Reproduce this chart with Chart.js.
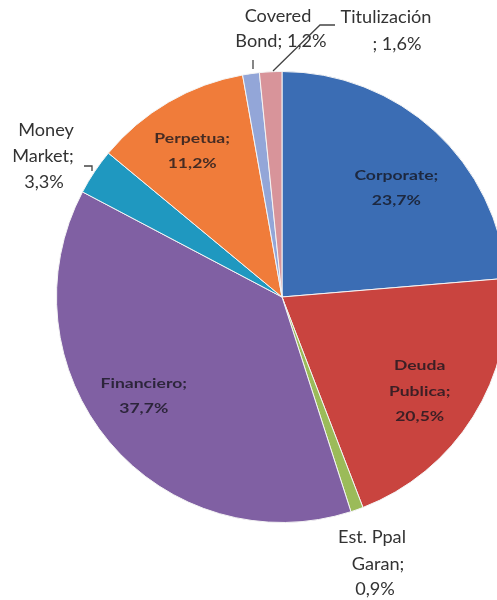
<!DOCTYPE html>
<html>
<head>
<meta charset="utf-8">
<script src="https://cdn.jsdelivr.net/npm/chart.js@4"></script>
<style>
  html, body { margin: 0; padding: 0; background: #fff; overflow: hidden; }
</style>
</head>
<body>
<canvas id="pieChart" width="520" height="600"></canvas>
<script>
const categories = ["Corporate", "Deuda Publica", "Est. Ppal Garan", "Financiero", "Money Market", "Perpetua", "Covered Bond", "Titulización"];
const shares = [23.7, 20.5, 0.9, 37.7, 3.3, 11.2, 1.2, 1.6];
const valueLabels = ["23,7%", "20,5%", "0,9%", "37,7%", "3,3%", "11,2%", "1,2%", "1,6%"];

const sliceColors = ["#3b6db4", "#c9443f", "#9bbb59", "#8060a3", "#1f98c0", "#f07c3a", "#93a6d8", "#d8949a"];

// inside labels: placed at a fraction of the radius, small angle nudge (deg)
const insideLabels = {
    0: { lines: ["Corporate;", valueLabels[0]], r: 0.70, da: 3.8 },
    1: { lines: ["Deuda", "Publica;", valueLabels[1]], r: 0.74, da: 2.3 },
    3: { lines: ["Financiero;", valueLabels[3]], r: 0.755, da: 4.3 },
    5: { lines: ["Perpetua;", valueLabels[5]], r: 0.76, da: -1.4 }
};
// outside labels (text blocks and leader lines)
const outsideLabels = [
    { lines: [["Covered", 278, 17], ["Bond; " + valueLabels[6], 281, 42]], leader: [[253, 60], [253, 69]] },
    { lines: [["Titulización", 386, 18], ["; " + valueLabels[7], 397, 45]], leader: [[273, 71], [320, 25], [335, 25]] },
    { lines: [["Money", 46, 131], ["Market;", 43, 157], [valueLabels[4], 44, 183]], leader: [[84, 166], [92, 166], [92, 171]] },
    { lines: [["Est. Ppal", 372, 538], ["Garan;", 378, 565], [valueLabels[2], 375, 590]], leader: null }
];

function stretchText(ctx, text, x, y, sx) {
    ctx.save();
    ctx.translate(x, y);
    ctx.scale(sx, 1);
    ctx.fillText(text, 0, 0);
    ctx.restore();
}

const labelPlugin = {
    id: 'sliceLabels',
    afterDatasetsDraw(chart) {
        const ctx = chart.ctx;
        const arcs = chart.getDatasetMeta(0).data;
        ctx.save();
        ctx.textAlign = 'center';
        ctx.textBaseline = 'middle';
        ctx.font = 'bold 13.5px Lato';
        ctx.fillStyle = 'rgba(20,20,30,0.78)';
        Object.keys(insideLabels).forEach(function (k) {
            const arc = arcs[k];
            const lab = insideLabels[k];
            const p = arc.getProps(['x', 'y', 'startAngle', 'endAngle', 'outerRadius'], true);
            const mid = (p.startAngle + p.endAngle) / 2 + lab.da * Math.PI / 180;
            const cx = p.x + Math.cos(mid) * p.outerRadius * lab.r;
            const cy = p.y + Math.sin(mid) * p.outerRadius * lab.r;
            const lh = 25.5;
            const top = cy - (lab.lines.length - 1) * lh / 2;
            lab.lines.forEach(function (t, i) {
                stretchText(ctx, t, cx, top + i * lh, 1.3);
            });
        });
        ctx.font = '16.5px Lato';
        ctx.fillStyle = '#333';
        ctx.strokeStyle = '#444';
        ctx.lineWidth = 1.3;
        outsideLabels.forEach(function (o) {
            o.lines.forEach(function (l) {
                stretchText(ctx, l[0], l[1], l[2], 1.1);
            });
            if (o.leader) {
                ctx.beginPath();
                ctx.moveTo(o.leader[0][0], o.leader[0][1]);
                for (let i = 1; i < o.leader.length; i++) ctx.lineTo(o.leader[i][0], o.leader[i][1]);
                ctx.stroke();
            }
        });
        ctx.restore();
    }
};

var ctx = document.getElementById("pieChart").getContext("2d");

new Chart(ctx, {
    type: 'pie',
    data: {
        labels: categories,
        datasets: [{
            data: shares,
            backgroundColor: sliceColors,
            borderColor: '#f4f4f4',
            borderWidth: 1
        }]
    },
    options: {
        responsive: false,
        animation: false,
        layout: {
            padding: { left: 56, right: 12, top: 71, bottom: 77 }
        },
        plugins: {
            legend: { display: false },
            tooltip: { enabled: false }
        }
    },
    plugins: [labelPlugin]
});
</script>
</body>
</html>
